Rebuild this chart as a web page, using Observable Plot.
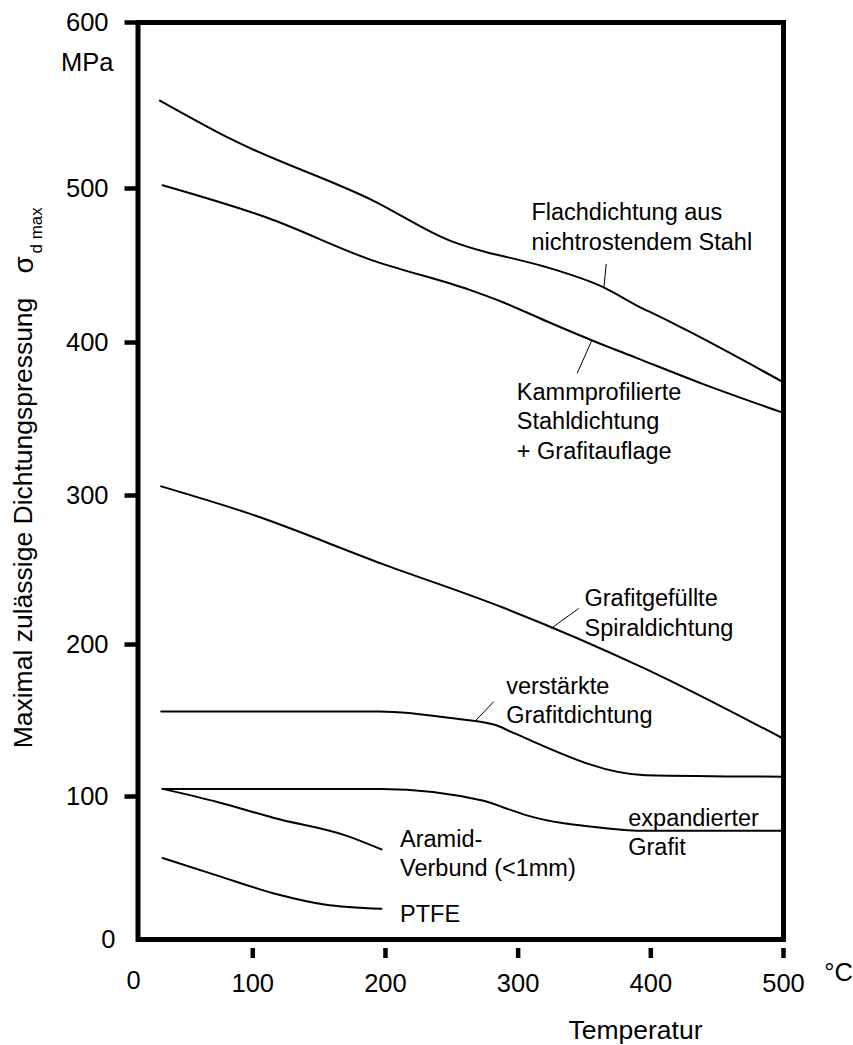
<!DOCTYPE html>
<html>
<head>
<meta charset="utf-8">
<script src="https://cdn.jsdelivr.net/npm/d3@7"></script>
<script src="https://cdn.jsdelivr.net/npm/@observablehq/plot@0.6"></script>
<style>
  html, body { margin: 0; padding: 0; background: #fff; }
</style>
</head>
<body>
<div id="chart"></div>
<script>
// ---- tick labels ----
const xTicks = [100, 200, 300, 400, 500];
const yTicks = [100, 200, 300, 400, 500, 600];
const xMin = 13.5, xMax = 500;

// ---- series (temperature °C, pressure MPa) ----
const flachT  = [30, 83, 191, 249, 279, 289, 321, 364, 394, 404, 427, 500];
const flachP  = [553, 530, 492, 466, 458, 456, 449, 436, 422, 418, 408, 374];

const kammT   = [32, 111, 188, 264, 289, 321, 354, 389, 439, 500];
const kammP   = [502, 481, 454, 434, 426, 414, 402, 390, 373, 354];

const spiralT = [31, 97, 198, 288, 396, 500];
const spiralP = [306, 288, 254, 225, 184, 138];

const verstT  = [31, 195, 255, 283, 296, 396, 500];
const verstP  = [156, 156, 151, 147, 142, 114, 113];

const expT    = [32, 197, 274, 290, 306, 364, 396, 500];
const expP    = [105, 105, 97, 92, 87, 78, 76, 76];

const aramidT = [32, 74, 116, 171, 197];
const aramidP = [105, 96, 85, 72.5, 63];

const ptfeT   = [32, 74, 119, 154, 197];
const ptfeP   = [57, 44.5, 31.5, 24.5, 21.5];

// ---- curve labels (anchored in data units) ----
const labelText = [
  "Flachdichtung aus\nnichtrostendem Stahl",
  "Kammprofilierte\nStahldichtung\n+ Grafitauflage",
  "Grafitgefüllte\nSpiraldichtung",
  "verstärkte\nGrafitdichtung",
  "expandierter\nGrafit",
  "Aramid-\nVerbund (<1mm)",
  "PTFE"
];
const labelT = [310, 299, 350, 291, 383, 211, 211];
const labelP = [476, 349.5, 222, 164, 75.7, 61, 18.5];

// ---- leader lines (data units) ----
const leadT1 = [366.4, 355.5, 345.6, 281.6];
const leadP1 = [451, 401.3, 224.2, 162.4];
const leadT2 = [364.6, 344.5, 324.7, 268.1];
const leadP2 = [435.5, 379.9, 210.7, 150.1];

// ---- build tables ----
const curves = [
  ["flach", flachT, flachP],
  ["kamm", kammT, kammP],
  ["spiral", spiralT, spiralP],
  ["verst", verstT, verstP],
  ["exp", expT, expP],
  ["aramid", aramidT, aramidP],
  ["ptfe", ptfeT, ptfeP]
];
const rows = curves.flatMap(([name, T, P]) => T.map((t, i) => ({name, t, p: P[i]})));
const labels = labelText.map((text, i) => ({text, t: labelT[i], p: labelP[i]}));
const leaders = leadT1.map((t1, i) => ({t1, p1: leadP1[i], t2: leadT2[i], p2: leadP2[i]}));

// the printed axis is slightly uneven; calibrate the y scale to the printed tick spacing
const yCalib = d3.scaleLinear()
  .domain([0, 100, 200, 300, 400, 500, 600])
  .range([0, 93.57, 193.0, 290.5, 390.6, 491.4, 600]);

const FONT = "'Liberation Sans', Arial, Helvetica, sans-serif";
const T = (text, o) => Plot.text([text], {textAnchor: "middle", lineAnchor: "middle", fill: "#000", ...o});

const chart = Plot.plot({
  width: 853,
  height: 1045,
  marginLeft: 137.5,
  marginRight: 70,
  marginTop: 22,
  marginBottom: 106,
  style: {fontFamily: FONT, fontSize: "25px", color: "#000", background: "#fff"},
  x: {domain: [xMin, xMax]},
  y: {type: "linear", domain: [0, 600], transform: (v) => yCalib(v), axis: null},
  marks: [
    Plot.line(rows, {x: "t", y: "p", z: "name", stroke: "#000", strokeWidth: 2, curve: "monotone-x"}),
    Plot.link(leaders, {x1: "t1", y1: "p1", x2: "t2", y2: "p2", stroke: "#000", strokeWidth: 1}),
    Plot.text(labels, {x: "t", y: "p", text: "text", textAnchor: "start", lineAnchor: "middle",
      fontSize: 23.5, lineHeight: 1.25, fill: "#000"}),
    // y axis (ticks outside the frame on the left)
    Plot.ruleY(yTicks, {y: (d) => d, x1: xMin, x2: xMin, insetLeft: -13, stroke: "#000", strokeWidth: 4.5}),
    Plot.text(yTicks, {y: (d) => d, text: (d) => String(d), frameAnchor: "left", textAnchor: "end",
      lineAnchor: "middle", dx: -29.5, fontSize: 25.5, fill: "#000"}),
    Plot.text([0], {y: (d) => d, text: (d) => String(d), frameAnchor: "left", textAnchor: "end",
      lineAnchor: "middle", dx: -22.5, fontSize: 25.5, fill: "#000"}),
    // x axis (ticks detached below the frame)
    Plot.axisX({ticks: xTicks, tickSize: 10, tickPadding: 15, dy: 9, strokeWidth: 4.5, fontSize: 25.5, label: null}),
    Plot.frame({stroke: "#000", strokeWidth: 5}),
    T("0", {frameAnchor: "bottom-left", dx: -4.5, dy: 41, fontSize: 25.5}),
    T("°C", {frameAnchor: "bottom-right", dx: 55, dy: 33, fontSize: 25.5}),
    T("Temperatur", {frameAnchor: "bottom-right", dx: -148, dy: 91, fontSize: 26.5}),
    T("MPa", {frameAnchor: "top-left", dx: -24.5, dy: 40, textAnchor: "end", fontSize: 25.5}),
    T("Maximal zulässige Dichtungspressung", {frameAnchor: "left", rotate: -90, dx: -114, dy: 42, fontSize: 26.5}),
    T("σ", {frameAnchor: "left", rotate: -90, dx: -114.1, dy: -207.5, textAnchor: "start", fontSize: 28}),
    T("d max", {frameAnchor: "left", rotate: -90, dx: -101.1, dy: -227.5, textAnchor: "start", fontSize: 17})
  ]
});
document.getElementById("chart").appendChild(chart);
</script>
</body>
</html>
